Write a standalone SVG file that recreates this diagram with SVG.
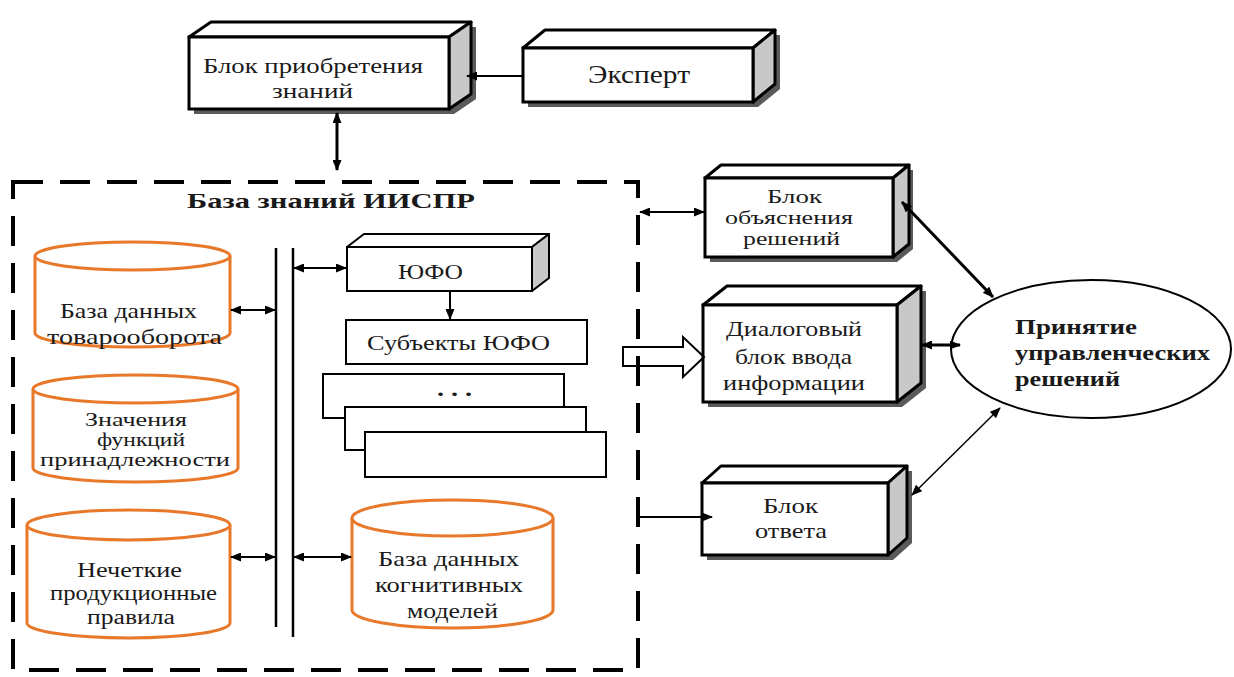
<svg xmlns="http://www.w3.org/2000/svg" width="1234" height="677" viewBox="0 0 1234 677">
<style>
text{font-family:"Liberation Serif","Times New Roman",serif;font-size:22px;fill:#1a1a1a;}
.b{font-weight:bold;}
.s18{font-size:18px;}
.s20{font-size:20px;}
.front{fill:#fff;stroke:#000;stroke-width:3;}
.top{fill:#fff;stroke:#000;stroke-width:3;stroke-linejoin:round;}
.side{fill:#c8c8c8;stroke:#000;stroke-width:3;stroke-linejoin:round;}
.shadow{fill:#5a5a5a;}
.cyl{fill:#fff;stroke:#e8782a;stroke-width:3;}
.rect{fill:#fff;stroke:#000;stroke-width:2;}
.ln{stroke:#000;stroke-width:2;fill:none;}
.thick{stroke:#000;stroke-width:3;fill:none;}
.thin{stroke:#000;stroke-width:1.5;fill:none;}
.frame{fill:none;stroke:#000;stroke-width:4;stroke-dasharray:30 17;}
</style>
<defs>
<marker id="ah" markerUnits="userSpaceOnUse" markerWidth="11" markerHeight="9" refX="10" refY="4.5" orient="auto-start-reverse">
<path d="M0,0 L11,4.5 L0,9 z" fill="#000"/>
</marker>
</defs>

<g id="frame">
<rect class="frame" x="13" y="182" width="625" height="488"/>
<text class="b" x="187" y="208" textLength="288" lengthAdjust="spacingAndGlyphs">База знаний ИИСПР</text>
</g>

<g id="node-acq">
<polygon class="shadow" points="194,114 194,42 216,27 476,27 476,99 454,114"/>
<polygon class="top" points="189,37 211,22 471,22 449,37"/>
<polygon class="side" points="449,37 471,22 471,94 449,109"/>
<rect class="front" x="189" y="37" width="260" height="72"/>
<text x="203" y="73" textLength="220" lengthAdjust="spacingAndGlyphs">Блок приобретения</text>
<text x="272" y="98" textLength="81" lengthAdjust="spacingAndGlyphs">знаний</text>
</g>

<g id="node-expert">
<polygon class="shadow" points="528,107 528,53 550,35 780,35 780,89 758,107"/>
<polygon class="top" points="523,48 545,30 775,30 753,48"/>
<polygon class="side" points="753,48 775,30 775,84 753,102"/>
<rect class="front" x="523" y="48" width="230" height="54"/>
<text x="588" y="83" style="font-size:26px" textLength="102" lengthAdjust="spacingAndGlyphs">Эксперт</text>
</g>

<g id="node-db1">
<path class="cyl" d="M35,256 L35,333 A97.5,14 0 0 0 230,333 L230,256"/>
<ellipse class="cyl" cx="132.5" cy="256" rx="97.5" ry="14"/>
<text x="60" y="318" textLength="137" lengthAdjust="spacingAndGlyphs">База данных</text>
<text x="47" y="344" textLength="175" lengthAdjust="spacingAndGlyphs">товарооборота</text>
</g>

<g id="node-db2">
<path class="cyl" d="M33,389 L33,468 A102.5,14 0 0 0 238,468 L238,389"/>
<ellipse class="cyl" cx="135.5" cy="389" rx="102.5" ry="14"/>
<text class="s18" x="85" y="426" textLength="102" lengthAdjust="spacingAndGlyphs">Значения</text>
<text class="s18" x="97" y="446" textLength="88" lengthAdjust="spacingAndGlyphs">функций</text>
<text class="s18" x="40" y="466" textLength="190" lengthAdjust="spacingAndGlyphs">принадлежности</text>
</g>

<g id="node-db3">
<path class="cyl" d="M27,525 L27,623 A101.5,15 0 0 0 230,623 L230,525"/>
<ellipse class="cyl" cx="128.5" cy="525" rx="101.5" ry="15"/>
<text class="s20" x="77" y="577" textLength="105" lengthAdjust="spacingAndGlyphs">Нечеткие</text>
<text class="s20" x="50" y="600" textLength="167" lengthAdjust="spacingAndGlyphs">продукционные</text>
<text class="s20" x="87" y="624" textLength="88" lengthAdjust="spacingAndGlyphs">правила</text>
</g>

<g id="node-db4">
<path class="cyl" d="M352,518 L352,610 A100.5,18 0 0 0 553,610 L553,518"/>
<ellipse class="cyl" cx="452.5" cy="518" rx="100.5" ry="18"/>
<text x="378" y="566" textLength="141" lengthAdjust="spacingAndGlyphs">База данных</text>
<text x="375" y="592" textLength="148" lengthAdjust="spacingAndGlyphs">когнитивных</text>
<text x="407" y="618" textLength="91" lengthAdjust="spacingAndGlyphs">моделей</text>
</g>

<g id="bus">
<line x1="276" y1="248" x2="276" y2="627" stroke="#000" stroke-width="2.5"/>
<line x1="293" y1="248" x2="293" y2="637" stroke="#000" stroke-width="2.5"/>
</g>

<g id="node-ufo">
<polygon class="top" style="stroke-width:2" points="347,247 364,234 549,234 532,247"/>
<polygon class="side" style="stroke-width:2" points="532,247 549,234 549,278 532,291"/>
<rect class="rect" x="347" y="247" width="185" height="44"/>
<text x="398" y="279" textLength="65" lengthAdjust="spacingAndGlyphs">ЮФО</text>
</g>

<g id="node-subj">
<rect class="rect" x="346" y="320" width="241" height="44"/>
<text x="367" y="350" textLength="183" lengthAdjust="spacingAndGlyphs">Субъекты ЮФО</text>
</g>

<g id="node-stack">
<rect class="rect" x="323" y="374" width="241" height="44"/>
<text class="b" x="437" y="396" textLength="35" lengthAdjust="spacingAndGlyphs">. . .</text>
<rect class="rect" x="345" y="407" width="241" height="43"/>
<rect class="rect" x="365" y="432" width="241" height="45"/>
</g>

<g id="node-explain">
<polygon class="shadow" points="710,262 710,183 726,170 913,170 913,249 897,262"/>
<polygon class="top" points="705,178 721,165 909,165 893,178"/>
<polygon class="side" points="893,178 909,165 909,244 893,257"/>
<rect class="front" x="705" y="178" width="188" height="79"/>
<text class="s18" x="767" y="203" textLength="55" lengthAdjust="spacingAndGlyphs">Блок</text>
<text class="s18" x="725" y="224" textLength="128" lengthAdjust="spacingAndGlyphs">объяснения</text>
<text class="s18" x="743" y="245" textLength="97" lengthAdjust="spacingAndGlyphs">решений</text>
</g>

<g id="node-dialog">
<polygon class="shadow" points="708,407 708,310 732,291 926,291 926,388 902,407"/>
<polygon class="top" points="703,305 727,286 921,286 897,305"/>
<polygon class="side" points="897,305 921,286 921,383 897,402"/>
<rect class="front" x="703" y="305" width="194" height="97"/>
<text x="726" y="336" textLength="136" lengthAdjust="spacingAndGlyphs">Диалоговый</text>
<text x="735" y="364" textLength="117" lengthAdjust="spacingAndGlyphs">блок ввода</text>
<text x="723" y="390" textLength="142" lengthAdjust="spacingAndGlyphs">информации</text>
</g>

<g id="node-answer">
<polygon class="shadow" points="707,560 707,488 726,471 912,471 912,543 893,560"/>
<polygon class="top" points="702,483 721,466 907,466 888,483"/>
<polygon class="side" points="888,483 907,466 907,538 888,555"/>
<rect class="front" x="702" y="483" width="186" height="72"/>
<text x="763" y="513" textLength="55" lengthAdjust="spacingAndGlyphs">Блок</text>
<text x="755" y="538" textLength="72" lengthAdjust="spacingAndGlyphs">ответа</text>
</g>

<g id="node-decision">
<ellipse cx="1091" cy="349" rx="140" ry="69" fill="#fff" stroke="#000" stroke-width="2"/>
<text class="b" x="1015" y="334" textLength="122" lengthAdjust="spacingAndGlyphs">Принятие</text>
<text class="b" x="1015" y="360" textLength="195" lengthAdjust="spacingAndGlyphs">управленческих</text>
<text class="b" x="1015" y="386" textLength="105" lengthAdjust="spacingAndGlyphs">решений</text>
</g>

<g id="connectors">
<line class="ln" x1="523" y1="76" x2="467" y2="76" marker-end="url(#ah)"/>
<line class="thick" x1="337" y1="113" x2="337" y2="170" marker-start="url(#ah)" marker-end="url(#ah)"/>
<line class="ln" x1="231" y1="310" x2="275" y2="310" marker-start="url(#ah)" marker-end="url(#ah)"/>
<line class="ln" x1="231" y1="557" x2="275" y2="557" marker-start="url(#ah)" marker-end="url(#ah)"/>
<line class="ln" x1="294" y1="268" x2="346" y2="268" marker-start="url(#ah)" marker-end="url(#ah)"/>
<line class="ln" x1="294" y1="557" x2="351" y2="557" marker-start="url(#ah)" marker-end="url(#ah)"/>
<line class="ln" x1="450" y1="291" x2="450" y2="319" marker-end="url(#ah)"/>
<line class="ln" x1="640" y1="212" x2="704" y2="212" marker-start="url(#ah)" marker-end="url(#ah)"/>
<polygon points="623,347 683,347 683,337 704,357 683,377 683,366 623,366" fill="none" stroke="#000" stroke-width="2"/>
<line class="ln" x1="638" y1="517" x2="712" y2="517" marker-end="url(#ah)"/>
<line class="thick" x1="902" y1="202" x2="993" y2="297" marker-start="url(#ah)" marker-end="url(#ah)"/>
<line class="thick" x1="922" y1="345" x2="960" y2="345" marker-start="url(#ah)" marker-end="url(#ah)"/>
<line class="thin" x1="912" y1="495" x2="1000" y2="408" marker-start="url(#ah)" marker-end="url(#ah)"/>
</g>
</svg>
